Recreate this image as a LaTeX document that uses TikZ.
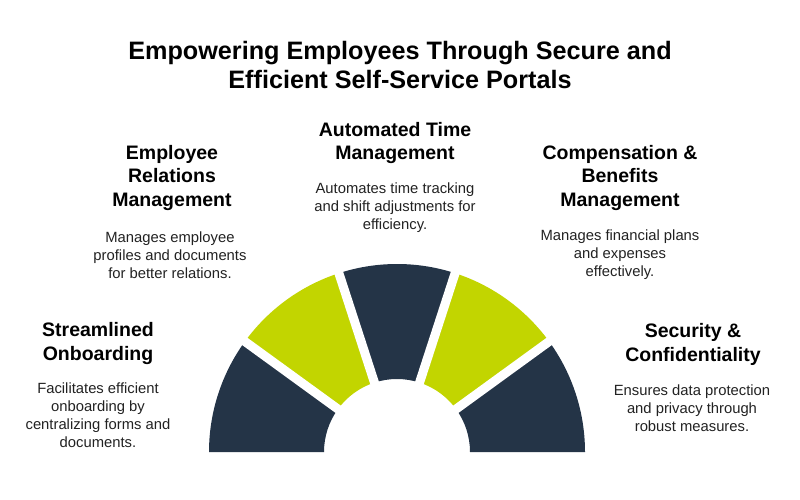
\documentclass[tikz,border=0pt]{standalone}
\usepackage{fontspec}
\setmainfont{Liberation Sans}
\definecolor{navy}{HTML}{243447}
\definecolor{lime}{HTML}{C2D500}
\definecolor{bodytxt}{HTML}{222222}
\begin{document}
\begin{tikzpicture}[x=1pt,y=1pt,
  titletxt/.style={align=center,inner sep=0pt,text=black,font=\fontsize{25.2}{29}\selectfont\bfseries},
  headtxt/.style={align=center,inner sep=0pt,text=black,font=\fontsize{19.5}{23.5}\selectfont\bfseries},
  desctxt/.style={align=center,inner sep=0pt,text=bodytxt,font=\fontsize{14.8}{18}\selectfont},
  gapline/.style={white,line width=9pt}]
\useasboundingbox[fill=white] (0,0) rectangle (800,499);

% title
\node[titletxt] (title) at (400,434) {Empowering Employees Through Secure and\\Efficient Self-Service Portals};

% fan
\begin{scope}[shift={(397,47)}]
  \coordinate (fc) at (0,0);
  \fill[navy] (180:188pt) arc[start angle=180,end angle=144,radius=188pt] -- (144:73pt) arc[start angle=144,end angle=180,radius=73pt] -- cycle;
  \fill[lime] (144:188pt) arc[start angle=144,end angle=108,radius=188pt] -- (108:73pt) arc[start angle=108,end angle=144,radius=73pt] -- cycle;
  \fill[navy] (108:188pt) arc[start angle=108,end angle=72,radius=188pt] -- (72:73pt) arc[start angle=72,end angle=108,radius=73pt] -- cycle;
  \fill[lime] (72:188pt) arc[start angle=72,end angle=36,radius=188pt] -- (36:73pt) arc[start angle=36,end angle=72,radius=73pt] -- cycle;
  \fill[navy] (36:188pt) arc[start angle=36,end angle=0,radius=188pt] -- (0:73pt) arc[start angle=0,end angle=36,radius=73pt] -- cycle;
  \foreach \a in {144,108,72,36}{
    \draw[gapline] (fc) -- (\a:200pt);
  }
\end{scope}

% Automated Time Management
\node[headtxt] (h3) at (395,356) {Automated Time\\Management};
\node[desctxt] (d3) at (395,291) {Automates time tracking\\and shift adjustments for\\efficiency.};

% Employee Relations Management
\node[headtxt] (h2) at (172,321) {Employee\\Relations\\Management};
\node[desctxt] (d2) at (170,244) {Manages employee\\profiles and documents\\for better relations.};

% Compensation & Benefits Management
\node[headtxt] (h4) at (620,321) {Compensation \&\\Benefits\\Management};
\node[desctxt] (d4) at (620,244) {Manages financial plans\\and expenses\\effectively.};

% Streamlined Onboarding
\node[headtxt] (h1) at (98,155.5) {Streamlined\\Onboarding};
\node[desctxt] (d1) at (98,84) {Facilitates efficient\\onboarding by\\centralizing forms and\\documents.};

% Security & Confidentiality
\node[headtxt] (h5) at (693,154.5) {Security \&\\Confidentiality};
\node[desctxt] (d5) at (692,91) {Ensures data protection\\and privacy through\\robust measures.};
\end{tikzpicture}
\end{document}
